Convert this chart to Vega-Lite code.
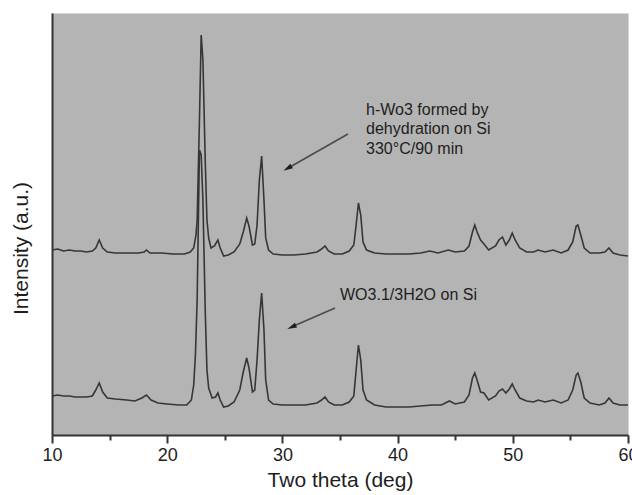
{
  "$schema": "https://vega.github.io/schema/vega-lite/v6.json",
  "width": 576,
  "height": 422,
  "autosize": "none",
  "padding": {"left": 52, "top": 13, "right": 4, "bottom": 60},
  "background": "white",
  "config": {
    "view": {"fill": "#b4b4b4", "stroke": "#d6d6d6", "strokeWidth": 1},
    "font": "Liberation Sans"
  },
  "datasets": {
    "xrd": [
      {"sample": "h-WO3", "theta": 10.0, "intensity": 185},
      {"sample": "h-WO3", "theta": 10.5, "intensity": 186},
      {"sample": "h-WO3", "theta": 11.0, "intensity": 184},
      {"sample": "h-WO3", "theta": 11.5, "intensity": 185},
      {"sample": "h-WO3", "theta": 12.0, "intensity": 184},
      {"sample": "h-WO3", "theta": 12.5, "intensity": 184},
      {"sample": "h-WO3", "theta": 13.0, "intensity": 183},
      {"sample": "h-WO3", "theta": 13.5, "intensity": 184},
      {"sample": "h-WO3", "theta": 13.8, "intensity": 187},
      {"sample": "h-WO3", "theta": 14.1, "intensity": 195},
      {"sample": "h-WO3", "theta": 14.4, "intensity": 187},
      {"sample": "h-WO3", "theta": 14.8, "intensity": 183},
      {"sample": "h-WO3", "theta": 15.5, "intensity": 182},
      {"sample": "h-WO3", "theta": 16.5, "intensity": 182},
      {"sample": "h-WO3", "theta": 17.5, "intensity": 182},
      {"sample": "h-WO3", "theta": 18.0, "intensity": 183},
      {"sample": "h-WO3", "theta": 18.2, "intensity": 185},
      {"sample": "h-WO3", "theta": 18.5, "intensity": 182},
      {"sample": "h-WO3", "theta": 19.5, "intensity": 182},
      {"sample": "h-WO3", "theta": 20.5, "intensity": 181},
      {"sample": "h-WO3", "theta": 21.5, "intensity": 181},
      {"sample": "h-WO3", "theta": 22.0, "intensity": 183},
      {"sample": "h-WO3", "theta": 22.3, "intensity": 187},
      {"sample": "h-WO3", "theta": 22.5, "intensity": 200},
      {"sample": "h-WO3", "theta": 22.6, "intensity": 215},
      {"sample": "h-WO3", "theta": 22.8, "intensity": 315},
      {"sample": "h-WO3", "theta": 22.95, "intensity": 400},
      {"sample": "h-WO3", "theta": 23.1, "intensity": 375},
      {"sample": "h-WO3", "theta": 23.3, "intensity": 275},
      {"sample": "h-WO3", "theta": 23.45, "intensity": 215},
      {"sample": "h-WO3", "theta": 23.6, "intensity": 197},
      {"sample": "h-WO3", "theta": 23.8, "intensity": 187},
      {"sample": "h-WO3", "theta": 24.1, "intensity": 189},
      {"sample": "h-WO3", "theta": 24.4, "intensity": 195},
      {"sample": "h-WO3", "theta": 24.6, "intensity": 187},
      {"sample": "h-WO3", "theta": 24.9, "intensity": 179},
      {"sample": "h-WO3", "theta": 25.3, "intensity": 180},
      {"sample": "h-WO3", "theta": 25.8, "intensity": 183},
      {"sample": "h-WO3", "theta": 26.3, "intensity": 191},
      {"sample": "h-WO3", "theta": 26.6, "intensity": 203},
      {"sample": "h-WO3", "theta": 26.9, "intensity": 217},
      {"sample": "h-WO3", "theta": 27.1, "intensity": 209},
      {"sample": "h-WO3", "theta": 27.4, "intensity": 190},
      {"sample": "h-WO3", "theta": 27.6, "intensity": 191},
      {"sample": "h-WO3", "theta": 27.8, "intensity": 210},
      {"sample": "h-WO3", "theta": 28.0, "intensity": 255},
      {"sample": "h-WO3", "theta": 28.2, "intensity": 279},
      {"sample": "h-WO3", "theta": 28.4, "intensity": 235},
      {"sample": "h-WO3", "theta": 28.55, "intensity": 197},
      {"sample": "h-WO3", "theta": 28.8, "intensity": 185},
      {"sample": "h-WO3", "theta": 29.2, "intensity": 181},
      {"sample": "h-WO3", "theta": 30.0, "intensity": 180},
      {"sample": "h-WO3", "theta": 31.0, "intensity": 180},
      {"sample": "h-WO3", "theta": 32.0, "intensity": 181},
      {"sample": "h-WO3", "theta": 33.0, "intensity": 183},
      {"sample": "h-WO3", "theta": 33.4, "intensity": 186},
      {"sample": "h-WO3", "theta": 33.7, "intensity": 189},
      {"sample": "h-WO3", "theta": 34.0, "intensity": 184},
      {"sample": "h-WO3", "theta": 34.5, "intensity": 181},
      {"sample": "h-WO3", "theta": 35.2, "intensity": 181},
      {"sample": "h-WO3", "theta": 35.8, "intensity": 184},
      {"sample": "h-WO3", "theta": 36.2, "intensity": 190},
      {"sample": "h-WO3", "theta": 36.4, "intensity": 210},
      {"sample": "h-WO3", "theta": 36.6, "intensity": 232},
      {"sample": "h-WO3", "theta": 36.8, "intensity": 220},
      {"sample": "h-WO3", "theta": 37.0, "intensity": 193},
      {"sample": "h-WO3", "theta": 37.3, "intensity": 185},
      {"sample": "h-WO3", "theta": 38.0, "intensity": 182},
      {"sample": "h-WO3", "theta": 39.0, "intensity": 181},
      {"sample": "h-WO3", "theta": 40.0, "intensity": 181},
      {"sample": "h-WO3", "theta": 41.0, "intensity": 181},
      {"sample": "h-WO3", "theta": 42.0, "intensity": 182},
      {"sample": "h-WO3", "theta": 42.8, "intensity": 184},
      {"sample": "h-WO3", "theta": 43.5, "intensity": 182},
      {"sample": "h-WO3", "theta": 44.4, "intensity": 185},
      {"sample": "h-WO3", "theta": 45.0, "intensity": 183},
      {"sample": "h-WO3", "theta": 45.8, "intensity": 184},
      {"sample": "h-WO3", "theta": 46.2, "intensity": 189},
      {"sample": "h-WO3", "theta": 46.5, "intensity": 203},
      {"sample": "h-WO3", "theta": 46.7, "intensity": 210},
      {"sample": "h-WO3", "theta": 46.9, "intensity": 203},
      {"sample": "h-WO3", "theta": 47.2, "intensity": 195},
      {"sample": "h-WO3", "theta": 47.5, "intensity": 191},
      {"sample": "h-WO3", "theta": 47.9, "intensity": 185},
      {"sample": "h-WO3", "theta": 48.5, "intensity": 189},
      {"sample": "h-WO3", "theta": 48.8, "intensity": 195},
      {"sample": "h-WO3", "theta": 49.1, "intensity": 198},
      {"sample": "h-WO3", "theta": 49.4, "intensity": 190},
      {"sample": "h-WO3", "theta": 49.7, "intensity": 195},
      {"sample": "h-WO3", "theta": 49.95, "intensity": 202},
      {"sample": "h-WO3", "theta": 50.2, "intensity": 195},
      {"sample": "h-WO3", "theta": 50.6, "intensity": 187},
      {"sample": "h-WO3", "theta": 51.2, "intensity": 183},
      {"sample": "h-WO3", "theta": 51.8, "intensity": 183},
      {"sample": "h-WO3", "theta": 52.2, "intensity": 185},
      {"sample": "h-WO3", "theta": 52.8, "intensity": 183},
      {"sample": "h-WO3", "theta": 53.5, "intensity": 185},
      {"sample": "h-WO3", "theta": 54.2, "intensity": 182},
      {"sample": "h-WO3", "theta": 54.8, "intensity": 185},
      {"sample": "h-WO3", "theta": 55.2, "intensity": 193},
      {"sample": "h-WO3", "theta": 55.5, "intensity": 209},
      {"sample": "h-WO3", "theta": 55.65, "intensity": 210},
      {"sample": "h-WO3", "theta": 55.9, "intensity": 200},
      {"sample": "h-WO3", "theta": 56.2, "intensity": 187},
      {"sample": "h-WO3", "theta": 56.7, "intensity": 182},
      {"sample": "h-WO3", "theta": 57.5, "intensity": 182},
      {"sample": "h-WO3", "theta": 58.0, "intensity": 183},
      {"sample": "h-WO3", "theta": 58.35, "intensity": 187},
      {"sample": "h-WO3", "theta": 58.7, "intensity": 182},
      {"sample": "h-WO3", "theta": 59.3, "intensity": 180},
      {"sample": "h-WO3", "theta": 60.0, "intensity": 179},
      {"sample": "WO3.1/3H2O", "theta": 10.0, "intensity": 39},
      {"sample": "WO3.1/3H2O", "theta": 10.5, "intensity": 40},
      {"sample": "WO3.1/3H2O", "theta": 11.0, "intensity": 39},
      {"sample": "WO3.1/3H2O", "theta": 11.5, "intensity": 39},
      {"sample": "WO3.1/3H2O", "theta": 12.0, "intensity": 38},
      {"sample": "WO3.1/3H2O", "theta": 12.5, "intensity": 38},
      {"sample": "WO3.1/3H2O", "theta": 13.0, "intensity": 38},
      {"sample": "WO3.1/3H2O", "theta": 13.5, "intensity": 39},
      {"sample": "WO3.1/3H2O", "theta": 13.8, "intensity": 45},
      {"sample": "WO3.1/3H2O", "theta": 14.1, "intensity": 52},
      {"sample": "WO3.1/3H2O", "theta": 14.4, "intensity": 43},
      {"sample": "WO3.1/3H2O", "theta": 14.8, "intensity": 37},
      {"sample": "WO3.1/3H2O", "theta": 15.5, "intensity": 36},
      {"sample": "WO3.1/3H2O", "theta": 16.5, "intensity": 35},
      {"sample": "WO3.1/3H2O", "theta": 17.2, "intensity": 34},
      {"sample": "WO3.1/3H2O", "theta": 17.8, "intensity": 37},
      {"sample": "WO3.1/3H2O", "theta": 18.2, "intensity": 40},
      {"sample": "WO3.1/3H2O", "theta": 18.6, "intensity": 35},
      {"sample": "WO3.1/3H2O", "theta": 19.2, "intensity": 32},
      {"sample": "WO3.1/3H2O", "theta": 20.0, "intensity": 31},
      {"sample": "WO3.1/3H2O", "theta": 21.0, "intensity": 30},
      {"sample": "WO3.1/3H2O", "theta": 21.7, "intensity": 30},
      {"sample": "WO3.1/3H2O", "theta": 22.1, "intensity": 35},
      {"sample": "WO3.1/3H2O", "theta": 22.3, "intensity": 50},
      {"sample": "WO3.1/3H2O", "theta": 22.45, "intensity": 80},
      {"sample": "WO3.1/3H2O", "theta": 22.6, "intensity": 135},
      {"sample": "WO3.1/3H2O", "theta": 22.8, "intensity": 285},
      {"sample": "WO3.1/3H2O", "theta": 22.95, "intensity": 280},
      {"sample": "WO3.1/3H2O", "theta": 23.1, "intensity": 235},
      {"sample": "WO3.1/3H2O", "theta": 23.3, "intensity": 125},
      {"sample": "WO3.1/3H2O", "theta": 23.45, "intensity": 65},
      {"sample": "WO3.1/3H2O", "theta": 23.6, "intensity": 47},
      {"sample": "WO3.1/3H2O", "theta": 23.9, "intensity": 37},
      {"sample": "WO3.1/3H2O", "theta": 24.2, "intensity": 38},
      {"sample": "WO3.1/3H2O", "theta": 24.4, "intensity": 42},
      {"sample": "WO3.1/3H2O", "theta": 24.6, "intensity": 35},
      {"sample": "WO3.1/3H2O", "theta": 24.9, "intensity": 28},
      {"sample": "WO3.1/3H2O", "theta": 25.3, "intensity": 29},
      {"sample": "WO3.1/3H2O", "theta": 25.8, "intensity": 33},
      {"sample": "WO3.1/3H2O", "theta": 26.3, "intensity": 45},
      {"sample": "WO3.1/3H2O", "theta": 26.6, "intensity": 63},
      {"sample": "WO3.1/3H2O", "theta": 26.9, "intensity": 77},
      {"sample": "WO3.1/3H2O", "theta": 27.1, "intensity": 67},
      {"sample": "WO3.1/3H2O", "theta": 27.4, "intensity": 43},
      {"sample": "WO3.1/3H2O", "theta": 27.6, "intensity": 45},
      {"sample": "WO3.1/3H2O", "theta": 27.8, "intensity": 75},
      {"sample": "WO3.1/3H2O", "theta": 28.0, "intensity": 115},
      {"sample": "WO3.1/3H2O", "theta": 28.2, "intensity": 142},
      {"sample": "WO3.1/3H2O", "theta": 28.4, "intensity": 105},
      {"sample": "WO3.1/3H2O", "theta": 28.55, "intensity": 55},
      {"sample": "WO3.1/3H2O", "theta": 28.8, "intensity": 35},
      {"sample": "WO3.1/3H2O", "theta": 29.2, "intensity": 31},
      {"sample": "WO3.1/3H2O", "theta": 30.0, "intensity": 30},
      {"sample": "WO3.1/3H2O", "theta": 31.0, "intensity": 30},
      {"sample": "WO3.1/3H2O", "theta": 32.0, "intensity": 30},
      {"sample": "WO3.1/3H2O", "theta": 33.0, "intensity": 32},
      {"sample": "WO3.1/3H2O", "theta": 33.4, "intensity": 35},
      {"sample": "WO3.1/3H2O", "theta": 33.7, "intensity": 38},
      {"sample": "WO3.1/3H2O", "theta": 34.0, "intensity": 33},
      {"sample": "WO3.1/3H2O", "theta": 34.5, "intensity": 30},
      {"sample": "WO3.1/3H2O", "theta": 35.2, "intensity": 30},
      {"sample": "WO3.1/3H2O", "theta": 35.8, "intensity": 33},
      {"sample": "WO3.1/3H2O", "theta": 36.2, "intensity": 39},
      {"sample": "WO3.1/3H2O", "theta": 36.4, "intensity": 65},
      {"sample": "WO3.1/3H2O", "theta": 36.6, "intensity": 90},
      {"sample": "WO3.1/3H2O", "theta": 36.8, "intensity": 75},
      {"sample": "WO3.1/3H2O", "theta": 37.0, "intensity": 45},
      {"sample": "WO3.1/3H2O", "theta": 37.3, "intensity": 35},
      {"sample": "WO3.1/3H2O", "theta": 38.0, "intensity": 30},
      {"sample": "WO3.1/3H2O", "theta": 39.0, "intensity": 28},
      {"sample": "WO3.1/3H2O", "theta": 40.0, "intensity": 28},
      {"sample": "WO3.1/3H2O", "theta": 41.0, "intensity": 28},
      {"sample": "WO3.1/3H2O", "theta": 42.0, "intensity": 29},
      {"sample": "WO3.1/3H2O", "theta": 43.0, "intensity": 30},
      {"sample": "WO3.1/3H2O", "theta": 43.8, "intensity": 30},
      {"sample": "WO3.1/3H2O", "theta": 44.5, "intensity": 34},
      {"sample": "WO3.1/3H2O", "theta": 45.0, "intensity": 31},
      {"sample": "WO3.1/3H2O", "theta": 45.8, "intensity": 33},
      {"sample": "WO3.1/3H2O", "theta": 46.2, "intensity": 40},
      {"sample": "WO3.1/3H2O", "theta": 46.5, "intensity": 57},
      {"sample": "WO3.1/3H2O", "theta": 46.7, "intensity": 62},
      {"sample": "WO3.1/3H2O", "theta": 46.9, "intensity": 55},
      {"sample": "WO3.1/3H2O", "theta": 47.2, "intensity": 43},
      {"sample": "WO3.1/3H2O", "theta": 47.5, "intensity": 42},
      {"sample": "WO3.1/3H2O", "theta": 47.9, "intensity": 35},
      {"sample": "WO3.1/3H2O", "theta": 48.5, "intensity": 39},
      {"sample": "WO3.1/3H2O", "theta": 48.8, "intensity": 44},
      {"sample": "WO3.1/3H2O", "theta": 49.1, "intensity": 46},
      {"sample": "WO3.1/3H2O", "theta": 49.4, "intensity": 42},
      {"sample": "WO3.1/3H2O", "theta": 49.7, "intensity": 46},
      {"sample": "WO3.1/3H2O", "theta": 49.95, "intensity": 51},
      {"sample": "WO3.1/3H2O", "theta": 50.2, "intensity": 45},
      {"sample": "WO3.1/3H2O", "theta": 50.6, "intensity": 37},
      {"sample": "WO3.1/3H2O", "theta": 51.2, "intensity": 34},
      {"sample": "WO3.1/3H2O", "theta": 51.8, "intensity": 33},
      {"sample": "WO3.1/3H2O", "theta": 52.2, "intensity": 35},
      {"sample": "WO3.1/3H2O", "theta": 52.8, "intensity": 33},
      {"sample": "WO3.1/3H2O", "theta": 53.5, "intensity": 35},
      {"sample": "WO3.1/3H2O", "theta": 54.2, "intensity": 32},
      {"sample": "WO3.1/3H2O", "theta": 54.8, "intensity": 35},
      {"sample": "WO3.1/3H2O", "theta": 55.2, "intensity": 45},
      {"sample": "WO3.1/3H2O", "theta": 55.5, "intensity": 60},
      {"sample": "WO3.1/3H2O", "theta": 55.65, "intensity": 62},
      {"sample": "WO3.1/3H2O", "theta": 55.9, "intensity": 53},
      {"sample": "WO3.1/3H2O", "theta": 56.2, "intensity": 37},
      {"sample": "WO3.1/3H2O", "theta": 56.7, "intensity": 32},
      {"sample": "WO3.1/3H2O", "theta": 57.5, "intensity": 30},
      {"sample": "WO3.1/3H2O", "theta": 58.0, "intensity": 32},
      {"sample": "WO3.1/3H2O", "theta": 58.35, "intensity": 37},
      {"sample": "WO3.1/3H2O", "theta": 58.7, "intensity": 32},
      {"sample": "WO3.1/3H2O", "theta": 59.3, "intensity": 30},
      {"sample": "WO3.1/3H2O", "theta": 60.0, "intensity": 30}
    ],
    "arrows": [
      {"x1": 35.69, "y1": 301, "x2": 30.66, "y2": 268, "hx": 30.66, "hy": 268, "angle": 240},
      {"x1": 34.57, "y1": 127, "x2": 31.03, "y2": 109.2, "hx": 31.03, "hy": 109.2, "angle": 246}
    ],
    "labels": [
      {"x": 37.26, "y": 325, "label": "h-Wo3 formed by"},
      {"x": 37.26, "y": 306, "label": "dehydration on Si"},
      {"x": 37.26, "y": 286, "label": "330°C/90 min"},
      {"x": 35.0, "y": 140, "label": "WO3.1/3H2O on Si"}
    ]
  },
  "resolve": {"axis": {"x": "independent"}},
  "layer": [
    {
      "data": {"name": "xrd"},
      "mark": {"type": "line", "color": "#363636", "strokeWidth": 1.6, "clip": true},
      "encoding": {
        "x": {
          "field": "theta", "type": "quantitative",
          "scale": {"domain": [10, 60], "nice": false, "zero": false},
          "axis": {
            "orient": "bottom",
            "title": "Two theta (deg)",
            "titleFontSize": 21, "titleFontWeight": "normal", "titleColor": "#1e1e1e", "titlePadding": 5,
            "values": [10, 20, 30, 40, 50, 60],
            "labelFontSize": 18, "labelColor": "#1e1e1e", "labelPadding": 3, "labelFlush": false, "labelOverlap": false,
            "tickSize": 8,
            "tickColor": "#333333", "tickWidth": 2,
            "domainColor": "#333333", "domainWidth": 2,
            "grid": false
          }
        },
        "y": {
          "field": "intensity", "type": "quantitative",
          "scale": {"domain": [0, 422], "nice": false},
          "axis": {
            "title": "Intensity (a.u.)",
            "titleFontSize": 21, "titleFontWeight": "normal", "titleColor": "#1e1e1e", "titlePadding": 21,
            "titleY": 235,
            "ticks": false, "labels": false,
            "domainColor": "#333333", "domainWidth": 2,
            "grid": false
          }
        },
        "detail": {"field": "sample", "type": "nominal"}
      }
    },
    {
      "data": {"name": "arrows"},
      "mark": {"type": "rule", "color": "#4a4a4a", "strokeWidth": 1.5},
      "encoding": {
        "x": {"field": "x1", "type": "quantitative", "axis": null},
        "y": {"field": "y1", "type": "quantitative"},
        "x2": {"field": "x2"},
        "y2": {"field": "y2"}
      }
    },
    {
      "data": {"name": "arrows"},
      "mark": {"type": "point", "shape": "M0,-1.6L0.55,0.4L-0.55,0.4Z", "filled": true, "color": "#1e1e1e", "size": 90, "opacity": 1},
      "encoding": {
        "x": {"field": "hx", "type": "quantitative", "axis": null},
        "y": {"field": "hy", "type": "quantitative"},
        "angle": {"field": "angle", "type": "quantitative", "scale": null}
      }
    },
    {
      "data": {"name": "labels"},
      "mark": {"type": "text", "align": "left", "baseline": "middle", "fontSize": 16, "color": "#1e1e1e"},
      "encoding": {
        "x": {
          "field": "x", "type": "quantitative",
          "axis": {
            "orient": "bottom",
            "values": [15, 25, 35, 45, 55],
            "labels": false, "domain": false, "title": null, "grid": false,
            "tickSize": 5, "tickColor": "#333333", "tickWidth": 2
          }
        },
        "y": {"field": "y", "type": "quantitative"},
        "text": {"field": "label", "type": "nominal"}
      }
    }
  ]
}
